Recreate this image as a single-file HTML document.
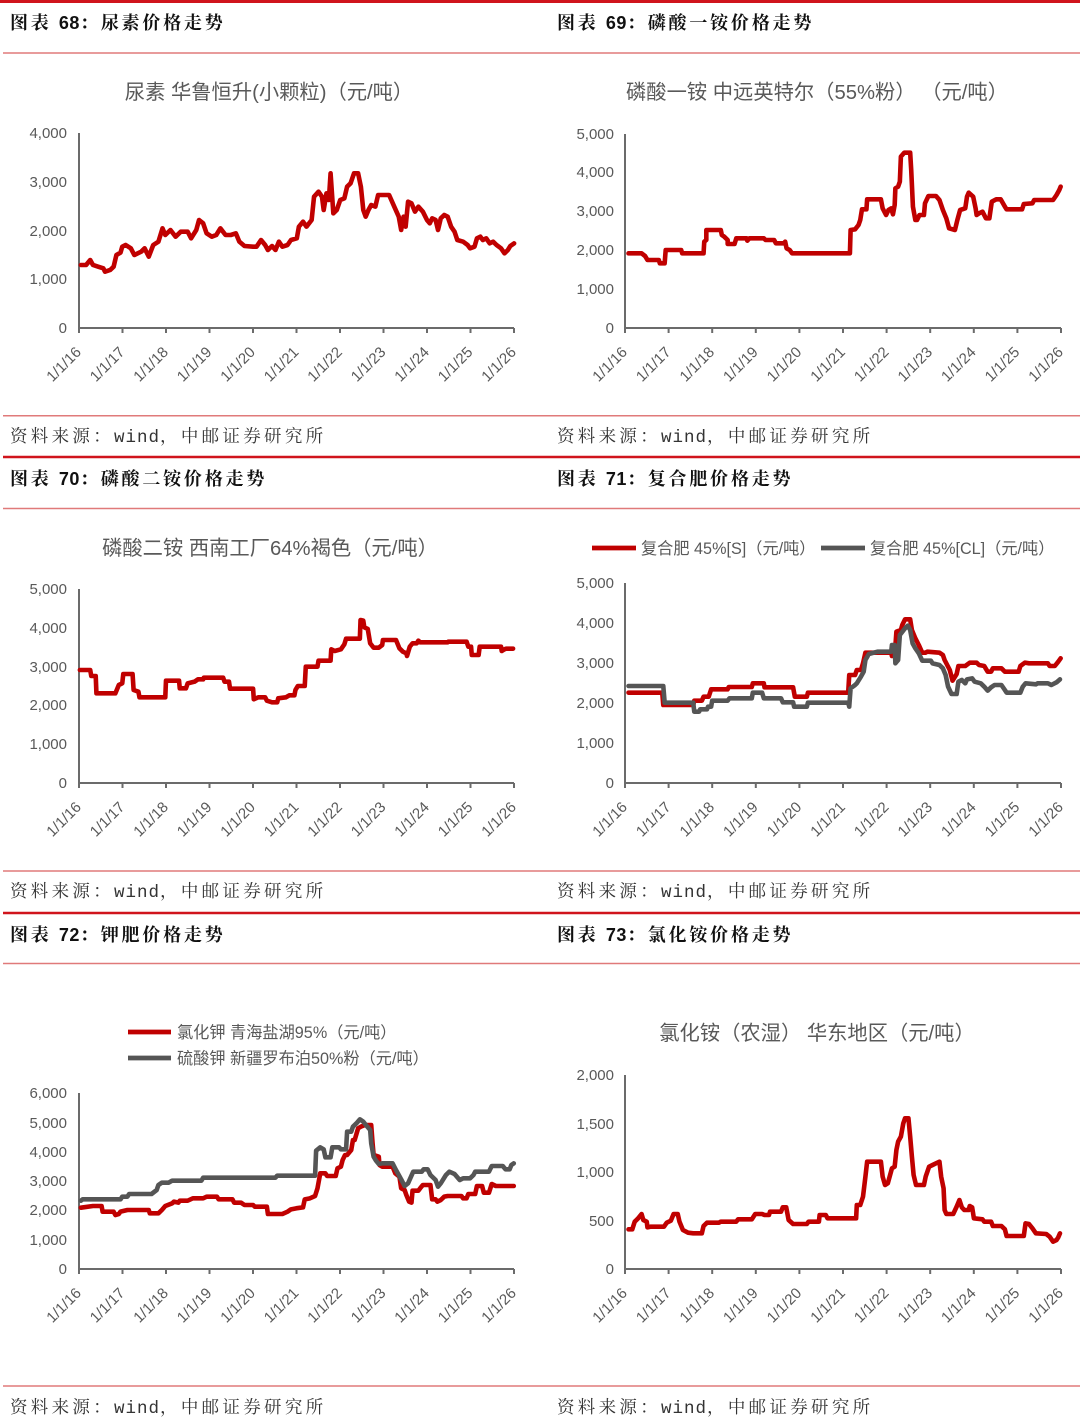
<!DOCTYPE html>
<html><head><meta charset="utf-8"><style>
html,body{margin:0;padding:0;background:#fff;}
svg{display:block;}
.hd{font-family:"Noto Serif CJK SC","Noto Sans CJK SC",serif;font-weight:700;font-size:18px;fill:#111;letter-spacing:2.8px;}
.hdn{font-family:"Liberation Sans",sans-serif;font-weight:700;letter-spacing:0.5px;}
.src{font-family:"Noto Serif CJK SC",serif;font-size:17.5px;fill:#333;letter-spacing:3.3px;}
.srcm{font-family:"Liberation Mono",monospace;font-size:17.5px;letter-spacing:1px;}
.tt{font-family:"Liberation Sans","Noto Sans CJK SC",sans-serif;font-size:20px;fill:#595959;}
.lg{font-family:"Liberation Sans","Noto Sans CJK SC",sans-serif;font-size:16.2px;fill:#595959;}
.yl{font-family:"Liberation Sans",sans-serif;font-size:15px;fill:#595959;text-anchor:end;}
.xl{font-family:"Liberation Sans",sans-serif;font-size:15px;fill:#595959;text-anchor:end;}
.ax{stroke:#6b6b6b;stroke-width:2;fill:none;}
.r{fill:none;stroke:#c00000;stroke-width:4.6;stroke-linejoin:round;stroke-linecap:round;}
.g{fill:none;stroke:#555555;stroke-width:4.6;stroke-linejoin:round;stroke-linecap:round;}
</style></head><body>
<svg width="1080" height="1428" viewBox="0 0 1080 1428" xmlns="http://www.w3.org/2000/svg">
<rect x="0" y="0" width="1080" height="3" fill="#d0141c"/>
<line x1="3" y1="53" x2="1080" y2="53" stroke="#e07a7a" stroke-width="1.5"/>
<line x1="3" y1="415.7" x2="1080" y2="415.7" stroke="#e07a7a" stroke-width="1.5"/>
<line x1="3" y1="457" x2="1080" y2="457" stroke="#d0141c" stroke-width="2.5"/>
<line x1="3" y1="508.5" x2="1080" y2="508.5" stroke="#e07a7a" stroke-width="1.5"/>
<line x1="3" y1="871" x2="1080" y2="871" stroke="#e07a7a" stroke-width="1.5"/>
<line x1="3" y1="913" x2="1080" y2="913" stroke="#d0141c" stroke-width="2.5"/>
<line x1="3" y1="963.5" x2="1080" y2="963.5" stroke="#e07a7a" stroke-width="1.5"/>
<line x1="3" y1="1386" x2="1080" y2="1386" stroke="#e07a7a" stroke-width="1.5"/>

<text class="hd" x="10" y="29">图表 <tspan class="hdn">68</tspan>：尿素价格走势</text>
<text class="hd" x="557" y="29">图表 <tspan class="hdn">69</tspan>：磷酸一铵价格走势</text>
<text class="hd" x="10" y="485">图表 <tspan class="hdn">70</tspan>：磷酸二铵价格走势</text>
<text class="hd" x="557" y="485">图表 <tspan class="hdn">71</tspan>：复合肥价格走势</text>
<text class="hd" x="10" y="941">图表 <tspan class="hdn">72</tspan>：钾肥价格走势</text>
<text class="hd" x="557" y="941">图表 <tspan class="hdn">73</tspan>：氯化铵价格走势</text>

<text class="src" x="10" y="442">资料来源：<tspan class="srcm">wind</tspan>，中邮证券研究所</text>
<text class="src" x="557" y="442">资料来源：<tspan class="srcm">wind</tspan>，中邮证券研究所</text>
<text class="src" x="10" y="897">资料来源：<tspan class="srcm">wind</tspan>，中邮证券研究所</text>
<text class="src" x="557" y="897">资料来源：<tspan class="srcm">wind</tspan>，中邮证券研究所</text>
<text class="src" x="10" y="1413">资料来源：<tspan class="srcm">wind</tspan>，中邮证券研究所</text>
<text class="src" x="557" y="1413">资料来源：<tspan class="srcm">wind</tspan>，中邮证券研究所</text>

<text class="tt" x="269" y="99" text-anchor="middle" style="font-size:20.3px">尿素 华鲁恒升(小颗粒)（元/吨）</text>
<text class="tt" x="817" y="99" text-anchor="middle" style="font-size:20.3px">磷酸一铵 中远英特尔（55%粉） （元/吨）</text>
<text class="tt" x="270" y="555" text-anchor="middle" style="font-size:20.3px">磷酸二铵 西南工厂64%褐色（元/吨）</text>
<text class="tt" x="817" y="1040" text-anchor="middle" style="font-size:20.3px">氯化铵（农湿） 华东地区（元/吨）</text>

<line x1="592" y1="548" x2="636" y2="548" stroke="#c00000" stroke-width="4.8"/>
<text class="lg" x="641" y="554">复合肥 45%[S]（元/吨）</text>
<line x1="821" y1="548" x2="865" y2="548" stroke="#555" stroke-width="4.8"/>
<text class="lg" x="870" y="554">复合肥 45%[CL]（元/吨）</text>
<line x1="128" y1="1032" x2="171" y2="1032" stroke="#c00000" stroke-width="4.8"/>
<text class="lg" x="177" y="1038">氯化钾 青海盐湖95%（元/吨）</text>
<line x1="128" y1="1058" x2="171" y2="1058" stroke="#555" stroke-width="4.8"/>
<text class="lg" x="177" y="1064">硫酸钾 新疆罗布泊50%粉（元/吨）</text>

<!-- Panel 1 -->
<path class="ax" d="M79,133 V328 H514 M79,328v5 M122.5,328v5 M166,328v5 M209.5,328v5 M253,328v5 M296.5,328v5 M340,328v5 M383.5,328v5 M427,328v5 M470.5,328v5 M514,328v5"/>
<g class="yl"><text x="67" y="333">0</text><text x="67" y="284">1,000</text><text x="67" y="236">2,000</text><text x="67" y="187">3,000</text><text x="67" y="138">4,000</text></g>
<g class="xl">
<text transform="translate(82,353) rotate(-45)">1/1/16</text><text transform="translate(125.5,353) rotate(-45)">1/1/17</text><text transform="translate(169,353) rotate(-45)">1/1/18</text><text transform="translate(212.5,353) rotate(-45)">1/1/19</text><text transform="translate(256,353) rotate(-45)">1/1/20</text><text transform="translate(299.5,353) rotate(-45)">1/1/21</text><text transform="translate(343,353) rotate(-45)">1/1/22</text><text transform="translate(386.5,353) rotate(-45)">1/1/23</text><text transform="translate(430,353) rotate(-45)">1/1/24</text><text transform="translate(473.5,353) rotate(-45)">1/1/25</text><text transform="translate(517,353) rotate(-45)">1/1/26</text>
</g>
<g transform="translate(0,120) scale(0.34435,0.33333)">
<path class="r" vector-effect="non-scaling-stroke" d="M235,435 L250,435 L262,420 L270,435 L285,440 L300,445 L305,455 L320,450 L330,440 L338,405 L350,398 L355,380 L365,375 L380,385 L390,405 L410,395 L420,385 L432,410 L445,375 L460,365 L472,325 L480,345 L495,330 L510,350 L525,335 L545,335 L555,355 L570,330 L578,300 L590,310 L600,340 L615,350 L628,345 L640,325 L655,345 L670,345 L685,340 L695,365 L710,378 L735,380 L745,380 L758,360 L770,375 L778,390 L790,378 L800,390 L810,365 L820,380 L835,375 L845,360 L862,355 L868,320 L880,305 L890,320 L905,300 L912,230 L925,215 L935,230 L940,270 L948,220 L955,240 L960,160 L968,280 L978,270 L988,240 L1000,235 L1008,200 L1018,190 L1028,160 L1040,160 L1048,200 L1055,270 L1062,290 L1070,270 L1078,255 L1090,260 L1098,225 L1115,225 L1130,225 L1145,260 L1158,290 L1165,330 L1172,290 L1178,320 L1185,245 L1195,250 L1205,275 L1215,260 L1228,275 L1240,300 L1248,310 L1255,295 L1265,300 L1272,330 L1280,295 L1290,285 L1300,290 L1310,320 L1320,335 L1328,360 L1345,365 L1358,375 L1365,385 L1378,380 L1385,355 L1395,350 L1402,360 L1412,355 L1422,370 L1432,365 L1442,375 L1455,385 L1465,400 L1475,390 L1482,378 L1493,370"/>
</g>

<!-- Panel 2 -->
<path class="ax" d="M625,134 V328 H1061 M625,328v5 M668.6,328v5 M712.2,328v5 M755.8,328v5 M799.4,328v5 M843,328v5 M886.6,328v5 M930.2,328v5 M973.8,328v5 M1017.4,328v5 M1061,328v5"/>
<g class="yl"><text x="614" y="333">0</text><text x="614" y="294">1,000</text><text x="614" y="255">2,000</text><text x="614" y="216">3,000</text><text x="614" y="177">4,000</text><text x="614" y="139">5,000</text></g>
<g class="xl">
<text transform="translate(628,353) rotate(-45)">1/1/16</text><text transform="translate(671.6,353) rotate(-45)">1/1/17</text><text transform="translate(715.2,353) rotate(-45)">1/1/18</text><text transform="translate(758.8,353) rotate(-45)">1/1/19</text><text transform="translate(802.4,353) rotate(-45)">1/1/20</text><text transform="translate(846,353) rotate(-45)">1/1/21</text><text transform="translate(889.6,353) rotate(-45)">1/1/22</text><text transform="translate(933.2,353) rotate(-45)">1/1/23</text><text transform="translate(976.8,353) rotate(-45)">1/1/24</text><text transform="translate(1020.4,353) rotate(-45)">1/1/25</text><text transform="translate(1064,353) rotate(-45)">1/1/26</text>
</g>
<g transform="translate(540,120) scale(0.34435,0.33333)">
<path class="r" vector-effect="non-scaling-stroke" d="M257,400 L295,400 L305,408 L312,420 L345,420 L348,430 L362,430 L365,390 L410,390 L413,400 L475,400 L477,365 L483,360 L483,330 L525,330 L528,345 L535,350 L545,360 L545,372 L565,372 L570,355 L600,355 L602,362 L608,355 L650,355 L655,360 L680,360 L685,370 L708,370 L712,365 L716,385 L725,390 L732,400 L900,400 L902,330 L915,328 L925,315 L930,300 L935,268 L948,268 L950,238 L990,238 L995,265 L1005,285 L1012,270 L1020,265 L1025,283 L1030,255 L1032,205 L1040,200 L1045,185 L1048,110 L1058,98 L1075,98 L1078,150 L1083,260 L1090,300 L1095,300 L1102,285 L1115,285 L1118,250 L1128,228 L1150,228 L1160,240 L1170,270 L1180,295 L1188,325 L1205,330 L1212,300 L1220,270 L1235,265 L1240,230 L1245,218 L1258,230 L1265,265 L1268,285 L1275,280 L1285,275 L1295,295 L1305,295 L1312,245 L1325,238 L1338,238 L1350,260 L1355,268 L1400,268 L1405,252 L1430,250 L1435,240 L1490,240 L1500,225 L1508,210 L1512,200"/>
</g>

<!-- Panel 3 -->
<path class="ax" d="M79,589 V783 H514 M79,783v5 M122.5,783v5 M166,783v5 M209.5,783v5 M253,783v5 M296.5,783v5 M340,783v5 M383.5,783v5 M427,783v5 M470.5,783v5 M514,783v5"/>
<g class="yl"><text x="67" y="788">0</text><text x="67" y="749">1,000</text><text x="67" y="710">2,000</text><text x="67" y="672">3,000</text><text x="67" y="633">4,000</text><text x="67" y="594">5,000</text></g>
<g class="xl">
<text transform="translate(82,808) rotate(-45)">1/1/16</text><text transform="translate(125.5,808) rotate(-45)">1/1/17</text><text transform="translate(169,808) rotate(-45)">1/1/18</text><text transform="translate(212.5,808) rotate(-45)">1/1/19</text><text transform="translate(256,808) rotate(-45)">1/1/20</text><text transform="translate(299.5,808) rotate(-45)">1/1/21</text><text transform="translate(343,808) rotate(-45)">1/1/22</text><text transform="translate(386.5,808) rotate(-45)">1/1/23</text><text transform="translate(430,808) rotate(-45)">1/1/24</text><text transform="translate(473.5,808) rotate(-45)">1/1/25</text><text transform="translate(517,808) rotate(-45)">1/1/26</text>
</g>
<g transform="translate(0,450) scale(0.34435,0.33333)">
<path class="r" vector-effect="non-scaling-stroke" d="M232,660 L262,660 L265,678 L278,678 L280,730 L335,730 L345,705 L355,700 L358,672 L385,672 L388,720 L402,725 L405,742 L480,742 L482,692 L520,692 L522,715 L540,715 L545,700 L565,695 L575,688 L590,688 L592,683 L648,683 L652,695 L665,695 L668,716 L735,716 L737,748 L750,742 L770,742 L775,752 L790,757 L805,757 L808,745 L830,742 L840,736 L855,736 L858,720 L865,708 L885,708 L888,650 L922,650 L925,632 L960,632 L962,598 L972,603 L990,598 L1000,583 L1005,566 L1045,566 L1047,510 L1055,512 L1058,532 L1068,537 L1075,580 L1085,593 L1100,593 L1110,585 L1112,570 L1150,570 L1160,595 L1170,605 L1180,610 L1182,618 L1190,590 L1198,580 L1210,580 L1215,572 L1220,577 L1300,577 L1302,575 L1355,575 L1360,590 L1368,590 L1370,615 L1390,615 L1393,590 L1455,590 L1457,603 L1465,598 L1470,596 L1490,596"/>
</g>

<!-- Panel 4 -->
<path class="ax" d="M625,583 V783 H1061 M625,783v5 M668.6,783v5 M712.2,783v5 M755.8,783v5 M799.4,783v5 M843,783v5 M886.6,783v5 M930.2,783v5 M973.8,783v5 M1017.4,783v5 M1061,783v5"/>
<g class="yl"><text x="614" y="788">0</text><text x="614" y="748">1,000</text><text x="614" y="708">2,000</text><text x="614" y="668">3,000</text><text x="614" y="628">4,000</text><text x="614" y="588">5,000</text></g>
<g class="xl">
<text transform="translate(628,808) rotate(-45)">1/1/16</text><text transform="translate(671.6,808) rotate(-45)">1/1/17</text><text transform="translate(715.2,808) rotate(-45)">1/1/18</text><text transform="translate(758.8,808) rotate(-45)">1/1/19</text><text transform="translate(802.4,808) rotate(-45)">1/1/20</text><text transform="translate(846,808) rotate(-45)">1/1/21</text><text transform="translate(889.6,808) rotate(-45)">1/1/22</text><text transform="translate(933.2,808) rotate(-45)">1/1/23</text><text transform="translate(976.8,808) rotate(-45)">1/1/24</text><text transform="translate(1020.4,808) rotate(-45)">1/1/25</text><text transform="translate(1064,808) rotate(-45)">1/1/26</text>
</g>
<g transform="translate(540,450) scale(0.34435,0.33333)">
<path class="r" vector-effect="non-scaling-stroke" d="M257,728 L355,728 L358,765 L445,765 L448,752 L470,752 L475,740 L490,740 L497,718 L545,718 L548,711 L615,711 L618,700 L650,700 L652,712 L735,712 L740,740 L775,740 L778,728 L895,728 L898,675 L915,675 L920,660 L932,660 L938,640 L945,608 L1020,608 L1022,618 L1030,618 L1035,545 L1048,540 L1052,525 L1060,508 L1075,508 L1080,540 L1090,565 L1100,585 L1110,608 L1120,608 L1125,605 L1160,608 L1170,615 L1175,630 L1190,660 L1198,692 L1210,672 L1215,648 L1235,648 L1248,638 L1268,638 L1275,645 L1290,648 L1300,665 L1310,665 L1315,655 L1340,655 L1350,665 L1390,665 L1395,648 L1408,638 L1420,640 L1475,640 L1480,648 L1495,648 L1505,635 L1512,625"/>
<path class="g" vector-effect="non-scaling-stroke" d="M257,708 L358,708 L362,758 L445,758 L448,785 L462,785 L465,778 L485,778 L488,770 L497,770 L500,752 L545,752 L550,745 L615,745 L618,728 L645,728 L650,745 L700,745 L705,757 L735,757 L738,770 L775,770 L778,758 L895,758 L898,770 L902,715 L915,705 L920,700 L932,680 L940,665 L945,630 L955,612 L980,605 L1020,605 L1022,585 L1030,585 L1032,640 L1040,630 L1045,555 L1060,535 L1068,527 L1075,540 L1082,580 L1090,595 L1100,610 L1110,632 L1135,632 L1140,640 L1160,645 L1170,655 L1178,675 L1185,710 L1195,732 L1210,732 L1215,695 L1225,690 L1235,700 L1240,688 L1255,685 L1262,695 L1280,700 L1290,710 L1300,722 L1310,712 L1320,705 L1340,705 L1350,720 L1355,728 L1395,728 L1402,710 L1410,700 L1440,703 L1445,700 L1475,700 L1485,705 L1500,697 L1510,688"/>
</g>

<!-- Panel 5 -->
<path class="ax" d="M79,1093 V1269 H514 M79,1269v5 M122.5,1269v5 M166,1269v5 M209.5,1269v5 M253,1269v5 M296.5,1269v5 M340,1269v5 M383.5,1269v5 M427,1269v5 M470.5,1269v5 M514,1269v5"/>
<g class="yl"><text x="67" y="1274">0</text><text x="67" y="1245">1,000</text><text x="67" y="1215">2,000</text><text x="67" y="1186">3,000</text><text x="67" y="1157">4,000</text><text x="67" y="1128">5,000</text><text x="67" y="1098">6,000</text></g>
<g class="xl">
<text transform="translate(82,1294) rotate(-45)">1/1/16</text><text transform="translate(125.5,1294) rotate(-45)">1/1/17</text><text transform="translate(169,1294) rotate(-45)">1/1/18</text><text transform="translate(212.5,1294) rotate(-45)">1/1/19</text><text transform="translate(256,1294) rotate(-45)">1/1/20</text><text transform="translate(299.5,1294) rotate(-45)">1/1/21</text><text transform="translate(343,1294) rotate(-45)">1/1/22</text><text transform="translate(386.5,1294) rotate(-45)">1/1/23</text><text transform="translate(430,1294) rotate(-45)">1/1/24</text><text transform="translate(473.5,1294) rotate(-45)">1/1/25</text><text transform="translate(517,1294) rotate(-45)">1/1/26</text>
</g>
<g transform="translate(0,910) scale(0.34435,0.33333)">
<path class="r" vector-effect="non-scaling-stroke" d="M235,893 L270,888 L295,888 L298,905 L330,905 L335,915 L345,912 L350,905 L370,900 L432,900 L435,910 L460,910 L470,900 L480,888 L500,880 L505,875 L518,878 L522,872 L545,872 L560,865 L590,865 L600,860 L630,860 L635,868 L675,868 L680,878 L700,878 L710,885 L735,885 L740,890 L775,890 L778,912 L820,912 L835,905 L845,898 L860,895 L880,892 L885,868 L900,865 L915,858 L922,835 L930,790 L945,790 L950,798 L975,798 L980,775 L990,770 L995,750 L1002,735 L1008,735 L1020,720 L1025,690 L1030,690 L1040,655 L1048,650 L1060,645 L1078,645 L1082,700 L1085,735 L1100,740 L1102,765 L1110,770 L1140,770 L1148,790 L1160,800 L1165,835 L1175,840 L1180,855 L1188,875 L1195,878 L1198,842 L1215,842 L1220,835 L1228,825 L1250,825 L1255,868 L1265,868 L1270,875 L1280,870 L1290,860 L1300,858 L1340,858 L1345,865 L1355,865 L1360,852 L1380,852 L1385,828 L1400,828 L1405,848 L1420,848 L1428,822 L1440,828 L1492,828"/>
<path class="g" vector-effect="non-scaling-stroke" d="M235,872 L240,868 L350,868 L355,860 L370,860 L375,852 L440,852 L455,840 L460,825 L470,818 L490,818 L500,812 L585,812 L590,803 L800,803 L805,797 L915,797 L918,722 L930,712 L940,718 L945,742 L960,742 L965,712 L985,712 L990,718 L1005,718 L1008,665 L1020,665 L1025,650 L1035,640 L1045,628 L1055,635 L1065,648 L1075,660 L1078,700 L1085,740 L1092,752 L1100,762 L1110,760 L1140,760 L1150,780 L1165,808 L1175,828 L1185,820 L1200,785 L1225,785 L1230,778 L1242,778 L1250,795 L1265,810 L1272,830 L1280,820 L1295,795 L1305,785 L1320,792 L1335,810 L1345,805 L1365,805 L1375,795 L1380,785 L1420,785 L1428,768 L1460,768 L1468,778 L1480,778 L1485,765 L1492,760"/>
</g>

<!-- Panel 6 -->
<path class="ax" d="M625,1075 V1269 H1061 M625,1269v5 M668.6,1269v5 M712.2,1269v5 M755.8,1269v5 M799.4,1269v5 M843,1269v5 M886.6,1269v5 M930.2,1269v5 M973.8,1269v5 M1017.4,1269v5 M1061,1269v5"/>
<g class="yl"><text x="614" y="1274">0</text><text x="614" y="1226">500</text><text x="614" y="1177">1,000</text><text x="614" y="1129">1,500</text><text x="614" y="1080">2,000</text></g>
<g class="xl">
<text transform="translate(628,1294) rotate(-45)">1/1/16</text><text transform="translate(671.6,1294) rotate(-45)">1/1/17</text><text transform="translate(715.2,1294) rotate(-45)">1/1/18</text><text transform="translate(758.8,1294) rotate(-45)">1/1/19</text><text transform="translate(802.4,1294) rotate(-45)">1/1/20</text><text transform="translate(846,1294) rotate(-45)">1/1/21</text><text transform="translate(889.6,1294) rotate(-45)">1/1/22</text><text transform="translate(933.2,1294) rotate(-45)">1/1/23</text><text transform="translate(976.8,1294) rotate(-45)">1/1/24</text><text transform="translate(1020.4,1294) rotate(-45)">1/1/25</text><text transform="translate(1064,1294) rotate(-45)">1/1/26</text>
</g>
<g transform="translate(540,910) scale(0.34435,0.33333)">
<path class="r" vector-effect="non-scaling-stroke" d="M257,958 L268,958 L275,935 L285,925 L295,912 L300,930 L310,935 L312,952 L322,950 L360,950 L368,938 L380,932 L388,912 L400,912 L405,935 L415,960 L430,968 L445,970 L470,970 L475,948 L485,938 L520,938 L525,935 L570,935 L575,928 L615,928 L625,912 L645,912 L652,915 L665,915 L668,905 L700,905 L705,892 L715,892 L722,930 L735,942 L775,942 L780,935 L810,935 L812,915 L830,915 L835,925 L918,925 L920,885 L930,885 L938,860 L945,800 L950,755 L990,755 L995,800 L1002,825 L1010,820 L1018,790 L1022,775 L1030,770 L1035,720 L1040,695 L1048,680 L1055,640 L1060,625 L1070,625 L1075,680 L1080,740 L1085,795 L1092,825 L1115,825 L1120,800 L1130,770 L1140,765 L1150,760 L1160,755 L1165,800 L1172,835 L1175,900 L1180,912 L1200,912 L1210,890 L1218,870 L1225,892 L1232,900 L1245,900 L1248,888 L1255,892 L1260,925 L1285,928 L1290,935 L1310,935 L1315,948 L1340,948 L1350,958 L1355,978 L1405,978 L1410,940 L1420,942 L1430,955 L1440,970 L1470,972 L1480,980 L1490,995 L1500,990 L1505,982 L1510,970"/>
</g>
</svg>
</body></html>
